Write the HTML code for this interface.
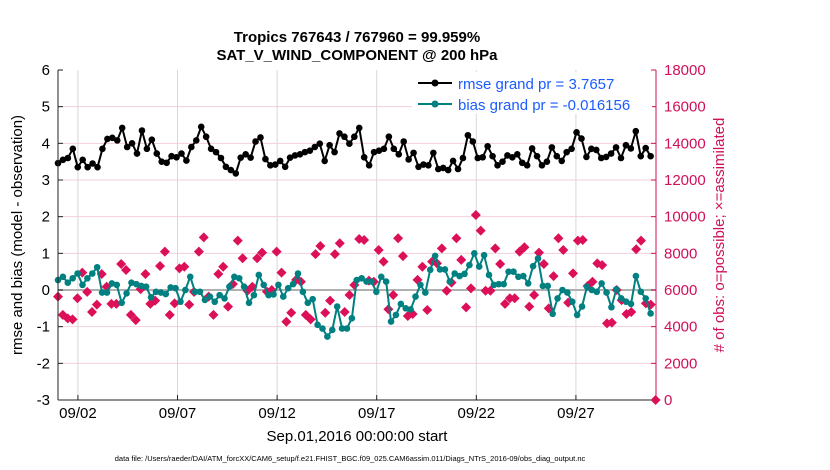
<!DOCTYPE html>
<html><head><meta charset="utf-8"><style>
body{margin:0;background:#fff}
svg{display:block;font-family:"Liberation Sans",sans-serif}
</style></head><body>
<svg id="chart" width="830" height="470">
<rect width="830" height="470" fill="#fff"/>
<text x="357" y="42" text-anchor="middle" font-size="15" font-weight="bold">Tropics 767643 / 767960 = 99.959%</text>
<text x="357" y="60" text-anchor="middle" font-size="15" font-weight="bold">SAT_V_WIND_COMPONENT @ 200 hPa</text>
<g id="grid"></g><g id="marks"></g><g id="axes"></g>
<text transform="translate(22,235) rotate(-90)" text-anchor="middle" font-size="15">rmse and bias (model - observation)</text>
<text transform="translate(724,235) rotate(-90)" text-anchor="middle" font-size="15" fill="#d0105a"># of obs: o=possible; ×=assimilated</text>
<text x="357" y="441" text-anchor="middle" font-size="15">Sep.01,2016 00:00:00 start</text>
<text x="350" y="461" text-anchor="middle" font-size="7.5">data file: /Users/raeder/DAI/ATM_forcXX/CAM6_setup/f.e21.FHIST_BGC.f09_025.CAM6assim.011/Diags_NTrS_2016-09/obs_diag_output.nc</text>
<g>
<rect x="412" y="72" width="240" height="42" fill="#fff"/>
<line x1="418" y1="83" x2="452" y2="83" stroke="#000" stroke-width="2"/><circle cx="435" cy="83" r="3.5" fill="#000"/>
<text x="458" y="89" font-size="15" fill="#1a5cff">rmse grand pr = 3.7657</text>
<line x1="418" y1="104" x2="452" y2="104" stroke="#008080" stroke-width="2"/><circle cx="435" cy="104" r="3.5" fill="#008080"/>
<text x="458" y="110" font-size="15" fill="#1a5cff">bias grand pr = -0.016156</text>
</g>
</svg>
<script>
const rmse=[3.46,3.55,3.6,3.85,3.35,3.55,3.35,3.45,3.35,3.85,4.12,4.15,4.08,4.42,3.9,4.0,3.72,4.35,3.85,4.1,3.72,3.5,3.47,3.65,3.62,3.72,3.53,3.9,4.08,4.45,4.18,3.85,3.76,3.6,3.36,3.27,3.18,3.61,3.7,3.61,4.05,4.16,3.57,3.4,3.42,3.52,3.36,3.61,3.67,3.7,3.76,3.8,3.9,3.99,3.52,3.95,3.76,4.27,4.18,3.99,4.18,4.42,3.62,3.4,3.76,3.8,3.85,4.18,3.85,3.7,4.05,3.56,3.74,3.36,3.42,3.4,3.74,3.3,3.33,3.27,3.52,3.3,3.6,4.22,4.05,3.6,3.62,3.92,3.65,3.4,3.5,3.67,3.62,3.7,3.47,3.4,3.86,3.65,3.4,3.5,3.89,3.65,3.52,3.76,3.85,4.3,4.13,3.63,3.85,3.82,3.6,3.63,3.72,3.89,3.6,3.95,3.86,4.33,3.65,3.87,3.65];
const bias=[0.27,0.36,0.2,0.32,0.45,0.14,0.32,0.45,0.62,-0.07,-0.07,0.18,0.14,-0.35,-0.09,0.2,0.16,0.11,0.09,-0.2,-0.05,-0.07,-0.11,0.07,0.05,-0.32,0,0.36,-0.05,-0.05,-0.27,-0.18,-0.32,-0.14,-0.23,0.09,0.36,0.32,0.09,-0.35,-0.14,0.41,0.14,-0.14,-0.12,0.14,-0.18,0.05,0.16,0.45,-0.05,-0.35,-0.25,-0.95,-1.05,-1.27,-1.09,-0.45,-1.05,-1.05,-0.77,0.27,0.32,0.23,0.23,-0.05,0.36,0.23,-0.86,-0.68,-0.38,-0.5,-0.53,-0.18,0.14,-0.07,0.55,0.93,0.56,0.56,0.23,0.45,0.38,0.44,0.68,1.0,0.64,0.95,0.41,0.14,0.16,0.16,0.5,0.5,0.36,0.38,0.18,0.65,0.86,0.11,0.11,-0.65,-0.23,0,-0.07,-0.32,-0.68,-0.45,0.09,0,-0.05,0.18,-0.07,-0.47,0.02,-0.23,-0.32,-0.38,0.38,-0.05,-0.23,-0.64];
const obs=[5640,4640,4450,4400,5550,6950,5900,4800,5200,6870,6180,5240,5240,7420,7090,4640,4360,6050,6870,5240,5420,7310,8090,4640,5270,7180,7270,5200,5900,8090,8870,5640,4640,6870,7270,5090,6330,8690,7730,5960,6180,7730,8040,5910,6000,8090,6950,4270,4760,6550,6450,4640,4400,7960,8400,4760,5420,7960,8550,4800,5730,6270,8780,8730,6510,6450,8180,7550,4950,5730,8820,7850,4580,4690,6550,7270,4910,7550,7450,8270,5960,6400,8820,7640,5050,6090,10090,9240,5960,5960,8270,7420,5240,5550,5550,8090,8330,5090,5730,8040,7420,5000,6760,8820,8180,5310,6910,8690,8730,6220,6450,7450,7360,4180,4220,6000,5450,4690,4800,8220,8690,5270,5200,0];
const yTicks=[-3,-2,-1,0,1,2,3,4,5,6];
const y2Ticks=[0,2000,4000,6000,8000,10000,12000,14000,16000,18000];
const xTickDays=[1,6,11,16,21,26];
const xTickLabels=["09/02","09/07","09/12","09/17","09/22","09/27"];
const NS="http://www.w3.org/2000/svg";
const L=58,R=656,T=70,B=400,DAYPX=19.92;
const xd=d=>L+d*DAYPX;
const y=v=>B-(v+3)*(B-T)/9;
const y2=v=>B-v*(B-T)/18000;
function mk(p,t,a){const e=document.createElementNS(NS,t);for(const k in a)e.setAttribute(k,a[k]);p.appendChild(e);return e;}
const grid=document.getElementById('grid'),marks=document.getElementById('marks'),axes=document.getElementById('axes');
yTicks.forEach(v=>{if(v>-3&&v<6){const g=mk(grid,'line',{x1:L,x2:R,y1:y(v),y2:y(v),stroke:'#f3cfdc','stroke-width':1});

}});
xTickDays.forEach(d=>{const g=mk(grid,'line',{x1:xd(d),x2:xd(d),y1:T,y2:B,stroke:'#d8d8d8','stroke-width':1});

});
const z=mk(grid,'line',{x1:L,x2:R,y1:y(0),y2:y(0),stroke:'#b0b0b0','stroke-width':2});


const span=29.75;
function series(arr,color,name){
  const st=span/(arr.length-1);
  const pts=arr.map((v,i)=>xd(i*st)+','+y(v)).join(' ');
  const pl=mk(marks,'polyline',{points:pts,fill:'none',stroke:color,'stroke-width':2});
  
  
  arr.forEach((v,i)=>{const c=mk(marks,'circle',{cx:xd(i*st),cy:y(v),r:3.3,fill:color});
  
  });
}
const ost=30/(obs.length-1);
obs.forEach((v,i)=>{const cx=xd(i*ost),cy=y2(v);
 const d=mk(marks,'polygon',{points:`${cx},${cy-5} ${cx+5},${cy} ${cx},${cy+5} ${cx-5},${cy}`,fill:'#dc1058'});
 
 });
series(bias,'#008080','bias');
series(rmse,'#000','rmse');
mk(axes,'line',{x1:L,x2:L,y1:T,y2:B,stroke:'#222','stroke-width':1});
mk(axes,'line',{x1:L,x2:R,y1:B,y2:B,stroke:'#222','stroke-width':1});
mk(axes,'line',{x1:R,x2:R,y1:T,y2:B,stroke:'#d0105a','stroke-width':1});
yTicks.forEach(v=>{mk(axes,'line',{x1:L,x2:L+5,y1:y(v),y2:y(v),stroke:'#222'});
 const t=mk(axes,'text',{x:L-8,y:y(v)+5,'text-anchor':'end','font-size':15});t.textContent=v;
 
 });
y2Ticks.forEach(v=>{mk(axes,'line',{x1:R-5,x2:R,y1:y2(v),y2:y2(v),stroke:'#d0105a'});
 const t=mk(axes,'text',{x:R+8,y:y2(v)+5,'font-size':15,fill:'#d0105a'});t.textContent=v;
 
 });
xTickDays.forEach((d,i)=>{mk(axes,'line',{x1:xd(d),x2:xd(d),y1:B-5,y2:B,stroke:'#222'});
 const t=mk(axes,'text',{x:xd(d),y:B+18,'text-anchor':'middle','font-size':15});t.textContent=xTickLabels[i];
 
 });
</script>
</body></html>
